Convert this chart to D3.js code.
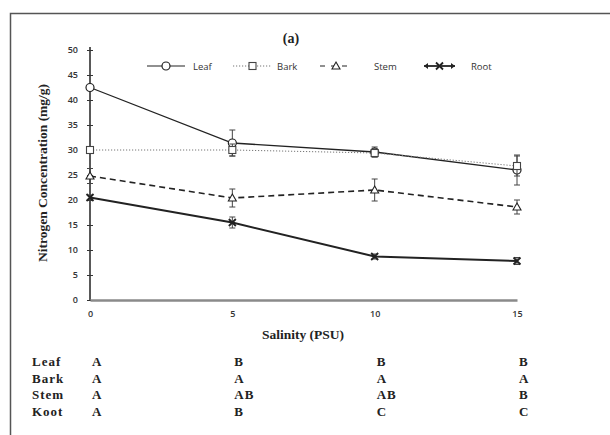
<!DOCTYPE html>
<html>
<head>
<meta charset="utf-8">
<script src="https://cdn.jsdelivr.net/npm/d3@7"></script>
<style>
  html, body { margin: 0; padding: 0; background: #fff; }
  svg { display: block; }
</style>
</head>
<body>
<svg id="chart" width="610" height="435"></svg>
<script>
// Salinity levels (PSU)
const salinity = [0, 5, 10, 15];
const yTicks = [0, 5, 10, 15, 20, 25, 30, 35, 40, 45, 50];

// Nitrogen concentration (mg/g) per tissue, with error bar half-widths
const leafValues = [42.5, 31.4, 29.6, 26.0];
const leafErr    = [0.6, 2.6, 1.0, 3.0];
const barkValues = [30.0, 30.0, 29.4, 26.8];
const barkErr    = [0.5, 1.2, 0.8, 2.0];
const stemValues = [24.8, 20.4, 22.0, 18.6];
const stemErr    = [1.5, 1.8, 2.2, 1.4];
const rootValues = [20.5, 15.5, 8.7, 7.8];
const rootErr    = [0.5, 1.1, 0.5, 0.7];

// Significance letters below the plot
const letterRows = ["Leaf", "Bark", "Stem", "Koot"];
const leafLetters = ["A", "B", "B", "B"];
const barkLetters = ["A", "A", "A", "A"];
const stemLetters = ["A", "AB", "AB", "B"];
const rootLetters = ["A", "B", "C", "C"];

const series = [
  { name: "Leaf", values: leafValues, err: leafErr, marker: "circle",   dash: null,      width: 1.3, color: "#222" },
  { name: "Bark", values: barkValues, err: barkErr, marker: "square",   dash: "1.2,1.8", width: 1.0, color: "#777" },
  { name: "Stem", values: stemValues, err: stemErr, marker: "triangle", dash: "6,4",     width: 1.6, color: "#222" },
  { name: "Root", values: rootValues, err: rootErr, marker: "cross",    dash: null,      width: 2.0, color: "#222" }
];
const letterTable = [leafLetters, barkLetters, stemLetters, rootLetters];

const svg = d3.select("#chart");

// Outer frame
svg.append("rect")
  .attr("x", 10.5).attr("y", 13.5)
  .attr("width", 640).attr("height", 460)
  .attr("fill", "none").attr("stroke", "#555").attr("stroke-width", 1.5);

const x = d3.scaleLinear().domain([0, 15]).range([90, 517]);
const y = d3.scaleLinear().domain([0, 50]).range([300, 50]);

const sansFont = "'Open Sans', 'DejaVu Sans', sans-serif";
const serifFont = "'Liberation Serif', 'DejaVu Serif', serif";

// Title
svg.append("text")
  .attr("x", 291).attr("y", 43)
  .attr("text-anchor", "middle")
  .attr("font-family", serifFont).attr("font-weight", "bold").attr("font-size", 14)
  .attr("fill", "#222")
  .text("(a)");

// Y axis
const yAxis = svg.append("g")
  .attr("transform", "translate(90,0)")
  .call(d3.axisLeft(y).tickValues(yTicks).tickSize(4).tickPadding(8));
yAxis.select(".domain").attr("stroke", "#222").attr("stroke-width", 1.5)
  .attr("d", `M0,${y(0)}V${y(50) - 3}`);
yAxis.selectAll(".tick line").attr("x1", -3).attr("x2", 3).attr("stroke", "#333");
yAxis.selectAll(".tick text")
  .attr("font-family", sansFont).attr("font-weight", 600).attr("font-size", 9)
  .attr("fill", "#333");

// X axis
const xAxis = svg.append("g")
  .attr("transform", `translate(0,${y(0)})`)
  .call(d3.axisBottom(x).tickValues(salinity).tickSize(0).tickPadding(11));
xAxis.select(".domain").attr("stroke", "#8a8a8a").attr("stroke-width", 2.5);
xAxis.selectAll(".tick text")
  .attr("font-family", sansFont).attr("font-weight", 600).attr("font-size", 9)
  .attr("fill", "#333");

// Axis titles
svg.append("text")
  .attr("transform", `translate(47,${y(25) - 2}) rotate(-90)`)
  .attr("text-anchor", "middle")
  .attr("font-family", serifFont).attr("font-weight", "bold").attr("font-size", 13.5)
  .attr("fill", "#222")
  .text("Nitrogen Concentration (mg/g)");

svg.append("text")
  .attr("x", 303).attr("y", 339)
  .attr("text-anchor", "middle")
  .attr("font-family", serifFont).attr("font-weight", "bold").attr("font-size", 13.5)
  .attr("fill", "#222")
  .text("Salinity (PSU)");

// Marker drawing helper
function drawMarker(g, kind, cx, cy, color) {
  if (kind === "circle") {
    g.append("circle").attr("cx", cx).attr("cy", cy).attr("r", 4)
      .attr("fill", "#fff").attr("stroke", color).attr("stroke-width", 1.2);
  } else if (kind === "square") {
    g.append("rect").attr("x", cx - 3.5).attr("y", cy - 3.5).attr("width", 7).attr("height", 7)
      .attr("fill", "#fff").attr("stroke", "#444").attr("stroke-width", 1.1);
  } else if (kind === "triangle") {
    g.append("path").attr("d", `M${cx},${cy - 4}L${cx + 4},${cy + 3}L${cx - 4},${cy + 3}Z`)
      .attr("fill", "#fff").attr("stroke", color).attr("stroke-width", 1.1);
  } else if (kind === "cross") {
    g.append("path").attr("d", `M${cx - 3.5},${cy - 3.5}L${cx + 3.5},${cy + 3.5}M${cx - 3.5},${cy + 3.5}L${cx + 3.5},${cy - 3.5}`)
      .attr("stroke", color).attr("stroke-width", 1.8);
  }
}

const line = d3.line().x((d, i) => x(salinity[i])).y(d => y(d));
const plot = svg.append("g");

// Lines
series.forEach(s => {
  plot.append("path")
    .datum(s.values)
    .attr("d", line)
    .attr("fill", "none")
    .attr("stroke", s.color)
    .attr("stroke-width", s.width)
    .attr("stroke-dasharray", s.dash);
});

// Error bars and markers
series.forEach(s => {
  const g = plot.append("g");
  s.values.forEach((v, i) => {
    const cx = x(salinity[i]);
    const top = y(v + s.err[i]), bot = y(v - s.err[i]);
    g.append("path")
      .attr("d", `M${cx},${top}V${bot}M${cx - 3},${top}H${cx + 3}M${cx - 3},${bot}H${cx + 3}`)
      .attr("stroke", "#444").attr("stroke-width", 1).attr("fill", "none");
    drawMarker(g, s.marker, cx, y(v), s.color);
  });
});

// Legend
const legendItems = [
  { s: series[0], x0: 147, x1: 185, tx: 193 },
  { s: series[1], x0: 233, x1: 272, tx: 277 },
  { s: series[2], x0: 320, x1: 352, tx: 374 },
  { s: series[3], x0: 424, x1: 455, tx: 471 }
];
const legend = svg.append("g");
const ly = 66;
legendItems.forEach(it => {
  legend.append("line")
    .attr("x1", it.x0).attr("x2", it.x1).attr("y1", ly).attr("y2", ly)
    .attr("stroke", it.s.color).attr("stroke-width", it.s.name === "Root" ? 1.8 : 1.2)
    .attr("stroke-dasharray", it.s.name === "Stem" ? "5,6" : it.s.dash);
  if (it.s.name === "Root") {
    legend.append("path").attr("d", `M${it.x0},${ly}l4,-3v6z M${it.x1},${ly}l-4,-3v6z`).attr("fill", "#222");
  }
  drawMarker(legend, it.s.marker, (it.x0 + it.x1) / 2, ly, it.s.color);
  legend.append("text")
    .attr("x", it.tx).attr("y", ly + 3.5)
    .attr("font-family", sansFont).attr("font-size", 9.5)
    .attr("fill", "#333")
    .text(it.s.name);
});

// Significance table
const table = svg.append("g")
  .attr("font-family", serifFont).attr("font-weight", "bold").attr("font-size", 13)
  .attr("letter-spacing", 1)
  .attr("fill", "#222");
letterRows.forEach((r, ri) => {
  const ty = 366 + ri * 16.7;
  table.append("text").attr("x", 32).attr("y", ty).text(r);
  letterTable[ri].forEach((l, ci) => {
    table.append("text").attr("x", x(salinity[ci]) + 2).attr("y", ty).text(l);
  });
});
</script>
</body>
</html>
